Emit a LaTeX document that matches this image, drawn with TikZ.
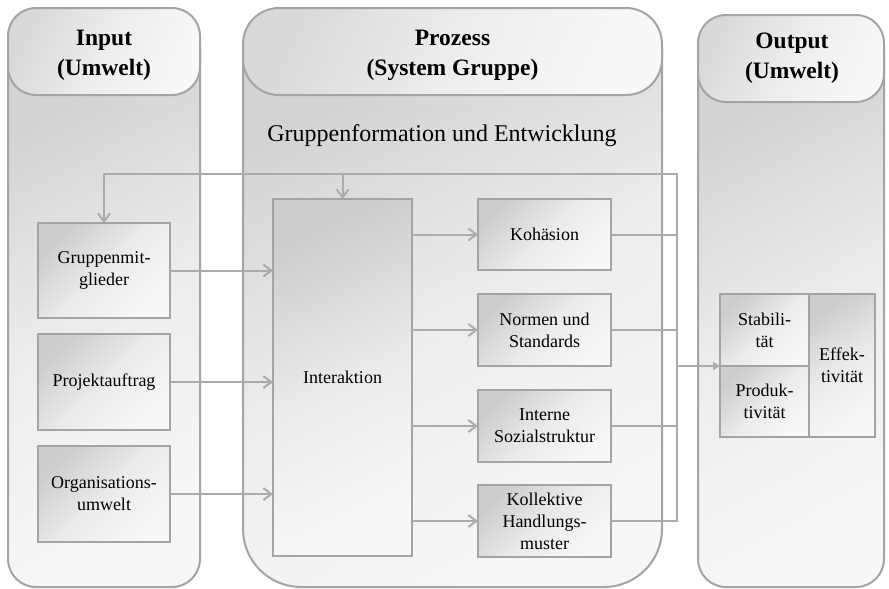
\documentclass[tikz,border=0pt]{standalone}
\usepackage{fontspec}
\setmainfont{Liberation Serif}
\usetikzlibrary{arrows.meta}

\definecolor{edgeC}{HTML}{A4A4A4}
\definecolor{wireC}{HTML}{ABABAB}
\definecolor{colDark}{HTML}{D3D3D3}
\definecolor{colMid}{HTML}{EDEDED}
\definecolor{colLight}{HTML}{F7F7F7}
\definecolor{headDark}{HTML}{D9D9D9}
\definecolor{headMid}{HTML}{EDEDED}
\definecolor{headLight}{HTML}{F8F8F8}
\definecolor{cellDark}{HTML}{CDCDCD}
\definecolor{cellMid}{HTML}{EAEAEA}
\definecolor{cellLight}{HTML}{F8F8F8}

\newcommand\cellfont{\fontsize{18}{22}\selectfont}
\newcommand\headfont{\fontsize{23.5}{30}\selectfont\bfseries}
\newcommand\subfont{\fontsize{24}{29}\selectfont}

\begin{document}
\begin{tikzpicture}[x=1pt,y=-1pt,
  colbody/.style={draw=edgeC, line width=2pt, left color=colDark, right color=colLight, middle color=colMid, shading angle=28},
  colhead/.style={draw=edgeC, line width=2pt, left color=headDark, right color=headLight, middle color=headMid, shading angle=65},
  cell/.style={draw=edgeC, line width=2.5pt, left color=cellDark, right color=cellLight, middle color=cellMid, shading angle=45,
    align=center, font=\cellfont, inner sep=2pt, outer sep=0pt},
  wire/.style={draw=wireC, line width=2pt},
  barb/.style={wire, -{Straight Barb[length=8pt,width=12pt]}},
  tri/.style={wire, -{Triangle[length=7pt,width=8pt]}},
]
\useasboundingbox (0,0) rectangle (889,589);

% ---- columns: body with rounded bottom, header capsule on top ----
% Input
\draw[colbody] (8,50) -- (8,559) arc[start angle=180, end angle=270, radius=28pt]
  -- (172,587) arc[start angle=270, end angle=360, radius=28pt] -- (200,50) -- cycle;
\draw[colhead, rounded corners=28pt] (8,8) rectangle (200,95);
\node[font=\headfont, align=center] (tin) at (104,55) {Input\\(Umwelt)};

% Prozess
\draw[colbody] (243,50) -- (243,529) arc[start angle=180, end angle=270, radius=58pt]
  -- (604,587) arc[start angle=270, end angle=360, radius=58pt] -- (662,50) -- cycle;
\draw[colhead, rounded corners=36pt] (243,8) rectangle (662,95);
\node[font=\headfont, align=center] (tpr) at (452.5,55) {Prozess\\(System Gruppe)};
\node[font=\subfont] (sub) at (442,136) {Gruppenformation und Entwicklung};

% Output
\draw[colbody] (698,55) -- (698,559) arc[start angle=180, end angle=270, radius=28pt]
  -- (856,587) arc[start angle=270, end angle=360, radius=28pt] -- (884,55) -- cycle;
\draw[colhead, rounded corners=28pt] (698,15) rectangle (884,102);
\node[font=\headfont, align=center] (tout) at (792,58) {Output\\(Umwelt)};

% ---- input boxes ----
\node[cell, minimum width=132pt, minimum height=95pt] (gm) at (104,270.5) {Gruppenmit-\\glieder};
\node[cell, minimum width=132pt, minimum height=96pt] (pa) at (104,382) {Projektauftrag};
\node[cell, minimum width=132pt, minimum height=96pt] (ou) at (104,494) {Organisations-\\umwelt};

% ---- process boxes ----
\node[cell, shading angle=25, minimum width=139pt, minimum height=357pt] (inter) at (342.5,377.5) {Interaktion};
\node[cell, minimum width=133pt, minimum height=71pt] (ko) at (544.5,234.5) {Kohäsion};
\node[cell, minimum width=133pt, minimum height=72pt] (nst) at (544.5,330) {Normen und\\Standards};
\node[cell, minimum width=133pt, minimum height=72pt] (isoz) at (544.5,426) {Interne\\Sozialstruktur};
\node[cell, minimum width=133pt, minimum height=72pt] (ku) at (544.5,521) {Kollektive\\Handlungs-\\muster};

% ---- output boxes ----
\node[cell, minimum width=89pt, minimum height=72pt] (st) at (764.5,330) {Stabili-\\tät};
\node[cell, minimum width=89pt, minimum height=71pt] (pr) at (764.5,401.5) {Produk-\\tivität};
\node[cell, shading angle=35, minimum width=66pt, minimum height=143pt] (ef) at (842,365.5) {Effek-\\tivität};

% ---- connectors ----
\coordinate (bus) at (677,174);
\coordinate (back) at (104,174);

\draw[barb] (gm.east) -- (gm.east -| inter.west);
\draw[barb] (pa.east) -- (pa.east -| inter.west);
\draw[barb] (ou.east) -- (ou.east -| inter.west);

\draw[barb] (inter.east |- ko.west) -- (ko.west);
\draw[barb] (inter.east |- nst.west) -- (nst.west);
\draw[barb] (inter.east |- isoz.west) -- (isoz.west);
\draw[barb] (inter.east |- ku.west) -- (ku.west);

\draw[wire] (ko.east) -- (ko.east -| bus);
\draw[wire] (nst.east) -- (nst.east -| bus);
\draw[wire] (isoz.east) -- (isoz.east -| bus);
\draw[barb] (ku.east) -| (bus) -- (back) -- (gm.north);
\draw[barb] (inter.north |- bus) -- (inter.north);
\draw[tri] (bus |- st.south west) -- (st.south west);
\end{tikzpicture}
\end{document}
